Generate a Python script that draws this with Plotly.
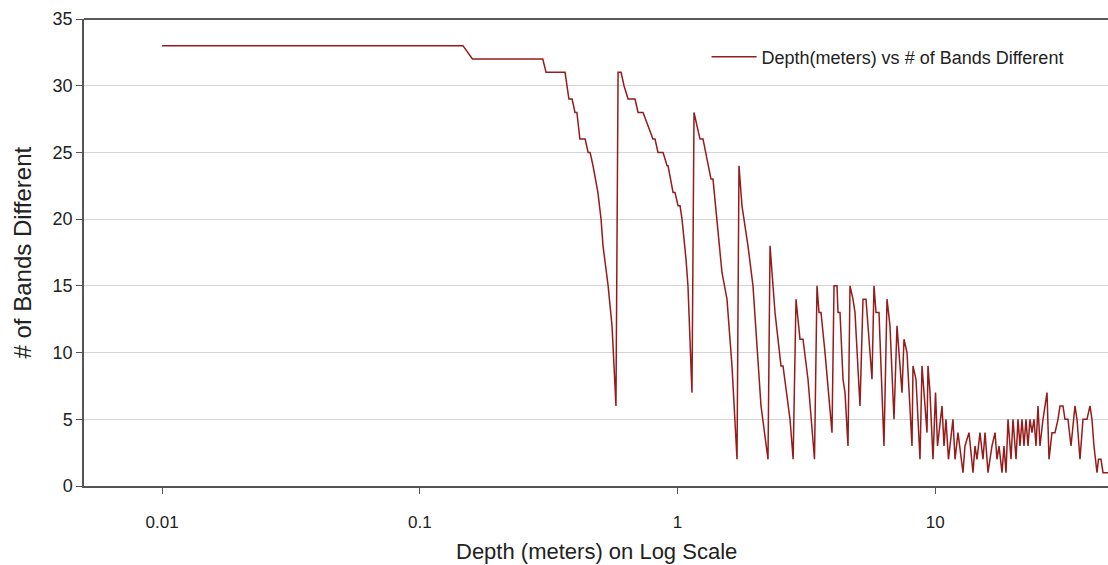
import plotly.graph_objects as go
import numpy as np

# Depth (m) and number of bands that differ at that depth
depth_m = [
    0.01, 0.147, 0.16, 0.30, 0.309, 0.366,
    0.379, 0.390, 0.400, 0.407, 0.418, 0.438, 0.450, 0.458, 0.470,
    0.491, 0.505, 0.514, 0.538, 0.557, 0.567, 0.577,
    0.588, 0.604, 0.620, 0.643, 0.684, 0.703, 0.735, 0.768, 0.803,
    0.818, 0.840, 0.879, 0.911, 0.919, 0.961, 0.978, 1.005, 1.023,
    1.041, 1.079, 1.098, 1.138,
    1.159, 1.190, 1.223, 1.256, 1.349, 1.373, 1.423, 1.488, 1.556,
    1.627, 1.702,
    1.732, 1.779, 1.877, 1.963, 2.053, 2.109, 2.245,
    2.286, 2.390, 2.521, 2.567, 2.733, 2.810,
    2.883, 2.988, 3.069, 3.209, 3.401,
    3.478, 3.541, 3.605, 3.736, 3.977,
    4.049, 4.159, 4.196, 4.272, 4.388, 4.467, 4.588,
    4.671, 4.797, 4.884, 5.107,
    5.246, 5.389, 5.535, 5.685,
    5.788, 5.893, 6.052, 6.328,
    6.501, 6.677, 6.920, 7.109, 7.237, 7.433, 7.568, 7.773, 8.128,
    8.201, 8.424, 8.730, 8.888, 9.294, 9.377, 9.546, 9.806,
    10.03, 10.21, 10.63, 10.82, 11.01, 11.26, 11.72, 11.94, 12.26,
    12.82, 13.05, 13.53, 14.02, 14.27, 14.53, 14.92, 15.33, 15.61,
    16.03, 16.61, 17.07, 17.37, 17.69, 18.17, 18.49, 18.83, 19.17,
    19.69, 20.04, 20.59, 20.96, 21.34, 21.72, 22.11, 22.51, 22.92,
    23.33, 23.75, 24.18, 24.62, 25.06, 25.51, 26.20, 27.16, 27.65,
    28.39, 29.17, 29.96, 30.50, 31.33, 31.89, 32.76, 33.65, 34.87,
    35.51, 36.47, 37.46, 38.82, 39.87, 40.59, 41.32, 42.45, 43.02,
    44.00, 44.80, 46.84,
]
bands_different = [
    33, 33, 32, 32, 31, 31,
    29, 29, 28, 28, 26, 26, 25, 25, 24,
    22, 20, 18, 15, 12, 9, 6,
    31, 31, 30, 29, 29, 28, 28, 27, 26,
    26, 25, 25, 24, 24, 22, 22, 21, 21,
    20, 17, 15, 7,
    28, 27, 26, 26, 23, 23, 20, 16, 14,
    9, 2,
    24, 21, 18, 15, 9, 6, 2,
    18, 13, 9, 9, 5, 2,
    14, 11, 11, 8, 2,
    15, 13, 13, 10, 4,
    15, 15, 13, 13, 8, 7, 3,
    15, 14, 13, 6,
    14, 14, 11, 8,
    15, 13, 13, 3,
    14, 12, 5, 12, 10, 7, 11, 10, 3,
    9, 8, 2, 9, 4, 9, 7, 2,
    7, 3, 6, 3, 5, 2, 5, 2, 4,
    1, 3, 4, 1, 3, 2, 4, 2, 4,
    1, 3, 4, 2, 3, 1, 3, 1, 5,
    2, 5, 2, 5, 3, 5, 3, 5, 3,
    5, 4, 5, 3, 6, 3, 5, 7, 2,
    4, 4, 5, 6, 6, 5, 5, 3, 6,
    5, 2, 5, 5, 6, 5, 3, 1, 2,
    2, 1, 1,
]

y_ticks = [0, 5, 10, 15, 20, 25, 30, 35]
x_ticks = [0.01, 0.1, 1, 10]
x_tick_labels = ["0.01", "0.1", "1", "10"]

FONT = "Liberation Sans, Arial, sans-serif"
TEXT = "#222222"
LINE_RED = "#961b1b"

fig = go.Figure()
fig.add_trace(go.Scatter(
    x=depth_m,
    y=bands_different,
    mode="lines",
    name="Depth(meters) vs # of Bands Different",
    line=dict(color=LINE_RED, width=1.5),
))

fig.update_layout(
    width=1108,
    height=565,
    margin=dict(l=84, r=0, t=19, b=79),
    paper_bgcolor="white",
    plot_bgcolor="white",
    font=dict(family=FONT, color=TEXT),
    showlegend=True,
    legend=dict(
        x=0.608, y=0.958, xanchor="left", yanchor="top",
        itemwidth=45,
        bgcolor="rgba(255,255,255,0)",
        font=dict(size=18, family=FONT, color=TEXT),
    ),
    xaxis=dict(
        type="log",
        range=[np.log10(0.004975), np.log10(46.84)],
        tickvals=x_ticks,
        ticktext=x_tick_labels,
        ticks="outside",
        ticklen=6,
        tickcolor="#555555",
        tickfont=dict(size=17, family=FONT, color=TEXT),
        ticklabelstandoff=14,
        showgrid=False,
        showline=True,
        linecolor="#555555",
        linewidth=2,
        zeroline=False,
    ),
    yaxis=dict(
        range=[0, 35],
        tickvals=y_ticks,
        ticks="outside",
        ticklen=6,
        tickcolor="#555555",
        tickfont=dict(size=18, family=FONT, color=TEXT),
        showgrid=True,
        gridcolor="#d4d4d4",
        gridwidth=1,
        showline=True,
        linecolor="#555555",
        linewidth=1.5,
        zeroline=False,
    ),
    shapes=[
        # top border of the plotting area
        dict(type="line", xref="paper", yref="paper", x0=0, x1=1, y0=1, y1=1,
             line=dict(color="#222222", width=1.5)),
    ],
    annotations=[
        dict(text="Depth (meters) on Log Scale", xref="paper", yref="paper",
             x=0.5, y=0, yshift=-65, xanchor="center", yanchor="middle",
             showarrow=False, font=dict(size=22, family=FONT, color=TEXT)),
        dict(text="# of Bands Different", xref="paper", yref="paper",
             x=0, y=0.5, xshift=-62, xanchor="center", yanchor="middle",
             textangle=-90, showarrow=False,
             font=dict(size=24, family=FONT, color=TEXT)),
    ],
)

fig.write_html("out.html")
